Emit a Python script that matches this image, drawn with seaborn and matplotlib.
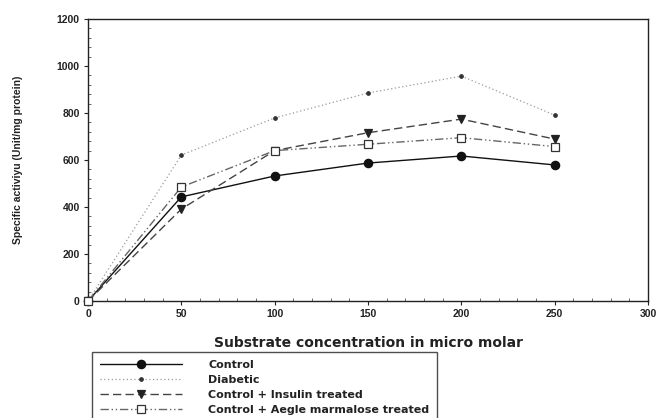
import matplotlib
matplotlib.use("Agg")
import matplotlib.pyplot as plt
import seaborn as sns
import pandas as pd
from matplotlib.ticker import MultipleLocator

sns.set_theme(style="white")
plt.rcParams['font.family'] = ['Liberation Sans', 'DejaVu Sans']

conc = [0, 50, 100, 150, 200, 250]
control = [0, 443, 532, 587, 617, 579]
diabetic = [0, 621, 779, 885, 957, 791]
insulin = [0, 391, 640, 716, 774, 689]
aegle = [0, 485, 640, 667, 695, 657]

labels = ["Control", "Diabetic", "Control + Insulin treated",
          "Control + Aegle marmalose treated"]

df = pd.DataFrame({
    "conc": conc * 4,
    "value": control + diabetic + insulin + aegle,
    "group": sum([[l] * len(conc) for l in labels], []),
})

styles = {
    labels[0]: dict(color="#111111", ls="-", lw=1.0, marker="o", ms=6, mfc="#111111", mec="#111111"),
    labels[1]: dict(color="#9a9a9a", ls=(0, (1, 2)), lw=0.9, marker="o", ms=2.5, mfc="#333333", mec="#333333"),
    labels[2]: dict(color="#444444", ls=(0, (6, 3)), lw=1.0, marker="v", ms=6, mfc="#222222", mec="#222222"),
    labels[3]: dict(color="#666666", ls=(0, (6, 2, 1, 2, 1, 2)), lw=1.0, marker="s", ms=6, mfc="white", mec="#333333"),
}

fig = plt.figure(figsize=(6.63, 4.18), dpi=100)
ax = fig.add_axes([88 / 663, 1 - 301 / 418, 560 / 663, 282 / 418])
fig.patch.set_facecolor("white")

for lab in labels:
    sub = df[df["group"] == lab]
    st = styles[lab]
    sns.lineplot(data=sub, x="conc", y="value", ax=ax, label=lab,
                 color=st["color"], linestyle=st["ls"], linewidth=st["lw"],
                 marker=st["marker"], markersize=st["ms"],
                 markerfacecolor=st["mfc"], markeredgecolor=st["mec"],
                 markeredgewidth=0.9, clip_on=False, zorder=3)

ax.set_xlim(0, 300)
ax.set_ylim(0, 1200)
ax.xaxis.set_major_locator(MultipleLocator(50))
ax.xaxis.set_minor_locator(MultipleLocator(10))
ax.yaxis.set_major_locator(MultipleLocator(200))
ax.yaxis.set_minor_locator(MultipleLocator(40))
ax.tick_params(axis="both", which="major", direction="out", length=3, width=0.8,
               labelsize=7.5, colors="#222222", pad=3, bottom=True, left=True)
ax.tick_params(axis="both", which="minor", direction="in", length=2, width=0.6,
               bottom=True, left=True, colors="#555555")
for t in ax.get_xticklabels() + ax.get_yticklabels():
    t.set_fontweight("bold")

for s in ax.spines.values():
    s.set_visible(True)
    s.set_color("#222222")
    s.set_linewidth(1.0)

ax.set_xlabel("Substrate concentration in micro molar", fontsize=10,
              fontweight="bold", color="#222222", labelpad=12,
              family=["DejaVu Sans"])
ax.set_ylabel("Specific activiyu (Unit/mg protein)", fontsize=7.5,
              fontweight="bold", color="#222222", labelpad=24)
ax.grid(False)

leg = ax.legend(loc="upper left", bbox_to_anchor=(0.007, -0.18),
                frameon=True, fancybox=False, edgecolor="#222222",
                prop={"family": ["DejaVu Sans"], "weight": "bold", "size": 8},
                handlelength=7.4, handletextpad=2.3,
                labelspacing=0.45, borderpad=0.75, borderaxespad=0)
leg.get_frame().set_linewidth(1.0)
for t in leg.get_texts():
    t.set_color("#222222")

fig.savefig("out.png", dpi=100)
